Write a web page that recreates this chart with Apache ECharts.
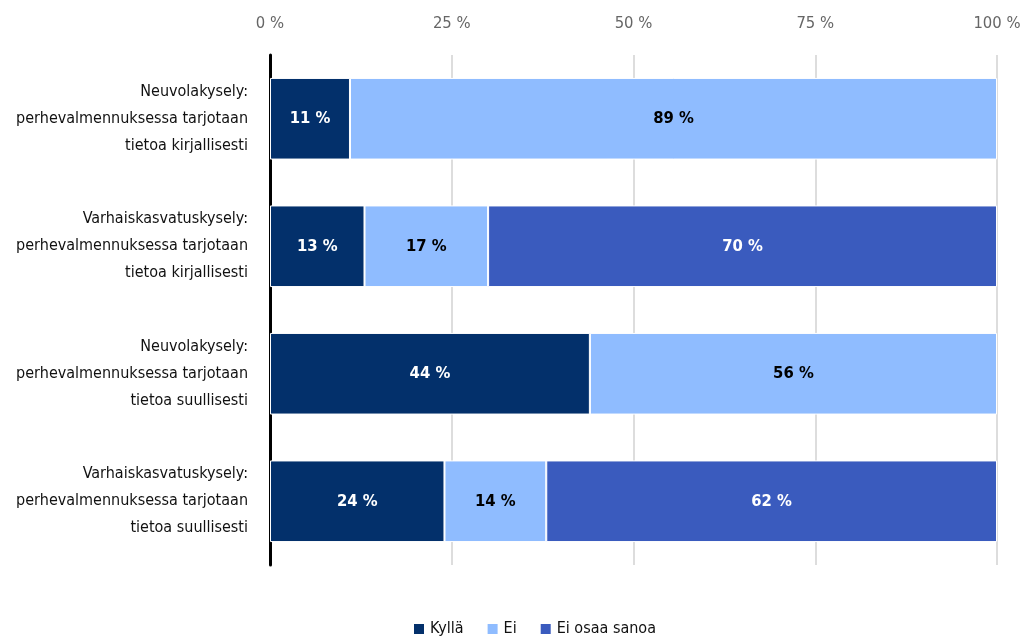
<!DOCTYPE html>
<html><head><meta charset="utf-8">
<script src="https://cdn.jsdelivr.net/npm/echarts@6/dist/echarts.min.js"></script>
<style>html,body{margin:0;padding:0;background:#fff}#c{width:1026px;height:637px}</style>
</head><body><div id="c"></div>
<script>
const categories = [
  "Neuvolakysely:\nperhevalmennuksessa tarjotaan\ntietoa kirjallisesti",
  "Varhaiskasvatuskysely:\nperhevalmennuksessa tarjotaan\ntietoa kirjallisesti",
  "Neuvolakysely:\nperhevalmennuksessa tarjotaan\ntietoa suullisesti",
  "Varhaiskasvatuskysely:\nperhevalmennuksessa tarjotaan\ntietoa suullisesti"
];
const seriesNames = ["Kyllä", "Ei", "Ei osaa sanoa"];
const kylla = [11, 13, 44, 24];
const ei = [89, 17, 56, 14];
const eiOsaa = [null, 70, null, 62];
const xTicks = [0, 25, 50, 75, 100];

const FONT = "'DejaVu Sans Condensed','Liberation Sans Narrow',sans-serif";
const colors = ["#03306b", "#8fbcff", "#3a5bbe"];
const labelColors = ["#ffffff", "#000000", "#ffffff"];
const values = [kylla, ei, eiOsaa];

const chart = echarts.init(document.getElementById('c'), null, {renderer: 'canvas'});
chart.setOption({
  animation: false,
  textStyle: {fontFamily: FONT},
  grid: {left: 270, right: 29, top: 55, bottom: 72, containLabel: false, outerBoundsMode: 'none'},
  xAxis: {
    type: 'value', position: 'top', min: 0, max: 100, interval: 25,
    axisLine: {show: false}, axisTick: {show: false},
    axisLabel: {formatter: v => xTicks.includes(v) ? v + ' %' : '', color: '#666', fontSize: 16.5, fontFamily: FONT, margin: 23},
    splitLine: {show: true, lineStyle: {color: '#dddddd', width: 2}}
  },
  yAxis: {
    type: 'category', data: categories, inverse: true,
    axisLine: {show: true, lineStyle: {color: '#000', width: 3}},
    axisTick: {show: false},
    axisLabel: {color: '#111', fontSize: 16, lineHeight: 27, fontFamily: FONT, margin: 22, align: 'right'}
  },
  legend: {
    data: seriesNames, top: 616, left: 407, itemWidth: 12, itemHeight: 12, itemGap: 22, icon: 'rect',
    textStyle: {fontSize: 16, color: '#111', fontFamily: FONT}
  },
  series: seriesNames.map((n, i) => ({
    name: n, type: 'bar', stack: 'total', data: values[i],
    barCategoryGap: '36%',
    itemStyle: {color: colors[i], borderColor: '#fff', borderWidth: 1},
    label: {show: true, position: 'inside', formatter: p => p.value + ' %', color: labelColors[i], fontWeight: 'bold', fontSize: 16.5, fontFamily: FONT}
  }))
});
</script></body></html>
